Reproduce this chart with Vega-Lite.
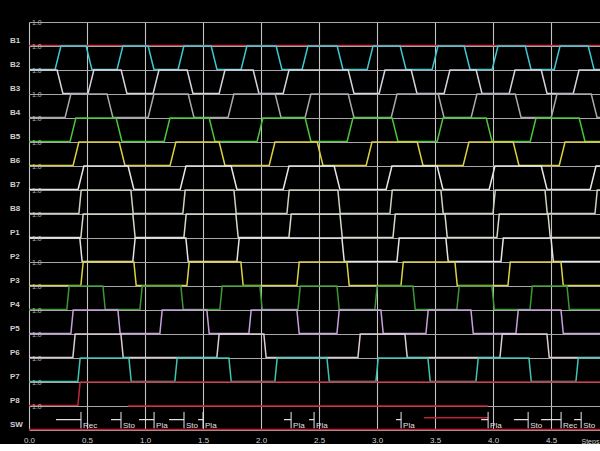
{
  "$schema": "https://vega.github.io/schema/vega-lite/v6.json",
  "autosize": {"type": "pad"},
  "padding": {"left": 9, "top": 19, "right": 0, "bottom": 0},
  "background": "#000000",
  "config": {
    "view": {"stroke": null},
    "font": "Liberation Sans"
  },
  "bounds": "flush",
  "data": {"values": [
    {"c":"B1","t":0,"v":0},{"c":"B1","t":4.93,"v":0},

    {"c":"B2","t":0,"v":0},{"c":"B2","t":0.225,"v":0},{"c":"B2","t":0.275,"v":1},{"c":"B2","t":0.492,"v":1},{"c":"B2","t":0.542,"v":0},{"c":"B2","t":0.759,"v":0},{"c":"B2","t":0.809,"v":1},{"c":"B2","t":1.027,"v":1},{"c":"B2","t":1.077,"v":0},{"c":"B2","t":1.285,"v":0},{"c":"B2","t":1.335,"v":1},{"c":"B2","t":1.57,"v":1},{"c":"B2","t":1.62,"v":0},{"c":"B2","t":1.828,"v":0},{"c":"B2","t":1.878,"v":1},{"c":"B2","t":2.13,"v":1},{"c":"B2","t":2.18,"v":0},{"c":"B2","t":2.354,"v":0},{"c":"B2","t":2.404,"v":1},{"c":"B2","t":2.656,"v":1},{"c":"B2","t":2.706,"v":0},{"c":"B2","t":2.915,"v":0},{"c":"B2","t":2.965,"v":1},{"c":"B2","t":3.199,"v":1},{"c":"B2","t":3.249,"v":0},{"c":"B2","t":3.475,"v":0},{"c":"B2","t":3.525,"v":1},{"c":"B2","t":3.751,"v":1},{"c":"B2","t":3.801,"v":0},{"c":"B2","t":3.992,"v":0},{"c":"B2","t":4.042,"v":1},{"c":"B2","t":4.277,"v":1},{"c":"B2","t":4.327,"v":0},{"c":"B2","t":4.527,"v":0},{"c":"B2","t":4.577,"v":1},{"c":"B2","t":4.82,"v":1},{"c":"B2","t":4.87,"v":0},{"c":"B2","t":4.93,"v":0},

    {"c":"B3","t":0,"v":1},{"c":"B3","t":0.242,"v":1},{"c":"B3","t":0.292,"v":0},{"c":"B3","t":0.509,"v":0},{"c":"B3","t":0.559,"v":1},{"c":"B3","t":0.794,"v":1},{"c":"B3","t":0.844,"v":0},{"c":"B3","t":1.07,"v":0},{"c":"B3","t":1.12,"v":1},{"c":"B3","t":1.363,"v":1},{"c":"B3","t":1.413,"v":0},{"c":"B3","t":1.639,"v":0},{"c":"B3","t":1.689,"v":1},{"c":"B3","t":1.932,"v":1},{"c":"B3","t":1.982,"v":0},{"c":"B3","t":2.191,"v":0},{"c":"B3","t":2.241,"v":1},{"c":"B3","t":2.751,"v":1},{"c":"B3","t":2.801,"v":0},{"c":"B3","t":3.018,"v":0},{"c":"B3","t":3.068,"v":1},{"c":"B3","t":3.294,"v":1},{"c":"B3","t":3.344,"v":0},{"c":"B3","t":3.578,"v":0},{"c":"B3","t":3.628,"v":1},{"c":"B3","t":3.854,"v":1},{"c":"B3","t":3.904,"v":0},{"c":"B3","t":4.139,"v":0},{"c":"B3","t":4.189,"v":1},{"c":"B3","t":4.415,"v":1},{"c":"B3","t":4.465,"v":0},{"c":"B3","t":4.691,"v":0},{"c":"B3","t":4.741,"v":1},{"c":"B3","t":4.93,"v":1},

    {"c":"B4","t":0,"v":0},{"c":"B4","t":0.311,"v":0},{"c":"B4","t":0.361,"v":1},{"c":"B4","t":0.673,"v":1},{"c":"B4","t":0.723,"v":0},{"c":"B4","t":1.027,"v":0},{"c":"B4","t":1.077,"v":1},{"c":"B4","t":1.372,"v":1},{"c":"B4","t":1.422,"v":0},{"c":"B4","t":1.716,"v":0},{"c":"B4","t":1.766,"v":1},{"c":"B4","t":2.122,"v":1},{"c":"B4","t":2.172,"v":0},{"c":"B4","t":2.38,"v":0},{"c":"B4","t":2.43,"v":1},{"c":"B4","t":2.751,"v":1},{"c":"B4","t":2.801,"v":0},{"c":"B4","t":3.122,"v":0},{"c":"B4","t":3.172,"v":1},{"c":"B4","t":3.527,"v":1},{"c":"B4","t":3.577,"v":0},{"c":"B4","t":3.811,"v":0},{"c":"B4","t":3.861,"v":1},{"c":"B4","t":4.191,"v":1},{"c":"B4","t":4.241,"v":0},{"c":"B4","t":4.501,"v":0},{"c":"B4","t":4.551,"v":1},{"c":"B4","t":4.846,"v":1},{"c":"B4","t":4.896,"v":0},{"c":"B4","t":4.93,"v":0},

    {"c":"B5","t":0,"v":0},{"c":"B5","t":0.354,"v":0},{"c":"B5","t":0.404,"v":1},{"c":"B5","t":0.751,"v":1},{"c":"B5","t":0.801,"v":0},{"c":"B5","t":1.165,"v":0},{"c":"B5","t":1.215,"v":1},{"c":"B5","t":1.553,"v":1},{"c":"B5","t":1.603,"v":0},{"c":"B5","t":1.966,"v":0},{"c":"B5","t":2.016,"v":1},{"c":"B5","t":2.38,"v":1},{"c":"B5","t":2.43,"v":0},{"c":"B5","t":2.742,"v":0},{"c":"B5","t":2.792,"v":1},{"c":"B5","t":3.13,"v":1},{"c":"B5","t":3.18,"v":0},{"c":"B5","t":3.518,"v":0},{"c":"B5","t":3.568,"v":1},{"c":"B5","t":3.941,"v":1},{"c":"B5","t":3.991,"v":0},{"c":"B5","t":4.32,"v":0},{"c":"B5","t":4.37,"v":1},{"c":"B5","t":4.742,"v":1},{"c":"B5","t":4.792,"v":0},{"c":"B5","t":4.93,"v":0},

    {"c":"B6","t":0,"v":0},{"c":"B6","t":0.38,"v":0},{"c":"B6","t":0.43,"v":1},{"c":"B6","t":0.777,"v":1},{"c":"B6","t":0.827,"v":0},{"c":"B6","t":1.216,"v":0},{"c":"B6","t":1.266,"v":1},{"c":"B6","t":1.639,"v":1},{"c":"B6","t":1.689,"v":0},{"c":"B6","t":2.07,"v":0},{"c":"B6","t":2.12,"v":1},{"c":"B6","t":2.484,"v":1},{"c":"B6","t":2.534,"v":0},{"c":"B6","t":2.906,"v":0},{"c":"B6","t":2.956,"v":1},{"c":"B6","t":3.346,"v":1},{"c":"B6","t":3.396,"v":0},{"c":"B6","t":3.742,"v":0},{"c":"B6","t":3.792,"v":1},{"c":"B6","t":4.173,"v":1},{"c":"B6","t":4.223,"v":0},{"c":"B6","t":4.57,"v":0},{"c":"B6","t":4.62,"v":1},{"c":"B6","t":4.93,"v":1},

    {"c":"B7","t":0,"v":0},{"c":"B7","t":0.423,"v":0},{"c":"B7","t":0.473,"v":1},{"c":"B7","t":0.854,"v":1},{"c":"B7","t":0.904,"v":0},{"c":"B7","t":1.303,"v":0},{"c":"B7","t":1.353,"v":1},{"c":"B7","t":1.742,"v":1},{"c":"B7","t":1.792,"v":0},{"c":"B7","t":2.191,"v":0},{"c":"B7","t":2.241,"v":1},{"c":"B7","t":2.63,"v":1},{"c":"B7","t":2.68,"v":0},{"c":"B7","t":3.078,"v":0},{"c":"B7","t":3.128,"v":1},{"c":"B7","t":3.518,"v":1},{"c":"B7","t":3.568,"v":0},{"c":"B7","t":3.966,"v":0},{"c":"B7","t":4.016,"v":1},{"c":"B7","t":4.415,"v":1},{"c":"B7","t":4.465,"v":0},{"c":"B7","t":4.837,"v":0},{"c":"B7","t":4.887,"v":1},{"c":"B7","t":4.93,"v":1},

    {"c":"B8","t":0,"v":0},{"c":"B8","t":0.43,"v":0},{"c":"B8","t":0.45,"v":1},{"c":"B8","t":0.878,"v":1},{"c":"B8","t":0.898,"v":0},{"c":"B8","t":1.326,"v":0},{"c":"B8","t":1.346,"v":1},{"c":"B8","t":1.766,"v":1},{"c":"B8","t":1.786,"v":0},{"c":"B8","t":2.223,"v":0},{"c":"B8","t":2.243,"v":1},{"c":"B8","t":2.662,"v":1},{"c":"B8","t":2.682,"v":0},{"c":"B8","t":3.111,"v":0},{"c":"B8","t":3.131,"v":1},{"c":"B8","t":3.55,"v":1},{"c":"B8","t":3.57,"v":0},{"c":"B8","t":3.999,"v":0},{"c":"B8","t":4.019,"v":1},{"c":"B8","t":4.447,"v":1},{"c":"B8","t":4.467,"v":0},{"c":"B8","t":4.878,"v":0},{"c":"B8","t":4.898,"v":1},{"c":"B8","t":4.93,"v":1},

    {"c":"P1","t":0,"v":0},{"c":"P1","t":0.447,"v":0},{"c":"P1","t":0.467,"v":1},{"c":"P1","t":0.895,"v":1},{"c":"P1","t":0.915,"v":0},{"c":"P1","t":1.335,"v":0},{"c":"P1","t":1.355,"v":1},{"c":"P1","t":1.783,"v":1},{"c":"P1","t":1.803,"v":0},{"c":"P1","t":2.24,"v":0},{"c":"P1","t":2.26,"v":1},{"c":"P1","t":2.68,"v":1},{"c":"P1","t":2.7,"v":0},{"c":"P1","t":3.137,"v":0},{"c":"P1","t":3.157,"v":1},{"c":"P1","t":3.585,"v":1},{"c":"P1","t":3.605,"v":0},{"c":"P1","t":4.033,"v":0},{"c":"P1","t":4.053,"v":1},{"c":"P1","t":4.473,"v":1},{"c":"P1","t":4.493,"v":0},{"c":"P1","t":4.93,"v":0},

    {"c":"P2","t":0,"v":1},{"c":"P2","t":0.438,"v":1},{"c":"P2","t":0.458,"v":0},{"c":"P2","t":0.895,"v":0},{"c":"P2","t":0.915,"v":1},{"c":"P2","t":1.352,"v":1},{"c":"P2","t":1.372,"v":0},{"c":"P2","t":1.792,"v":0},{"c":"P2","t":1.812,"v":1},{"c":"P2","t":2.697,"v":1},{"c":"P2","t":2.717,"v":0},{"c":"P2","t":3.171,"v":0},{"c":"P2","t":3.191,"v":1},{"c":"P2","t":3.593,"v":1},{"c":"P2","t":3.613,"v":0},{"c":"P2","t":4.068,"v":0},{"c":"P2","t":4.088,"v":1},{"c":"P2","t":4.499,"v":1},{"c":"P2","t":4.519,"v":0},{"c":"P2","t":4.93,"v":0},

    {"c":"P3","t":0,"v":0},{"c":"P3","t":0.447,"v":0},{"c":"P3","t":0.467,"v":1},{"c":"P3","t":0.904,"v":1},{"c":"P3","t":0.924,"v":0},{"c":"P3","t":1.361,"v":0},{"c":"P3","t":1.381,"v":1},{"c":"P3","t":1.826,"v":1},{"c":"P3","t":1.846,"v":0},{"c":"P3","t":2.309,"v":0},{"c":"P3","t":2.329,"v":1},{"c":"P3","t":2.74,"v":1},{"c":"P3","t":2.76,"v":0},{"c":"P3","t":3.206,"v":0},{"c":"P3","t":3.226,"v":1},{"c":"P3","t":3.671,"v":1},{"c":"P3","t":3.691,"v":0},{"c":"P3","t":4.128,"v":0},{"c":"P3","t":4.148,"v":1},{"c":"P3","t":4.585,"v":1},{"c":"P3","t":4.605,"v":0},{"c":"P3","t":4.93,"v":0},

    {"c":"P4","t":0,"v":0},{"c":"P4","t":0.326,"v":0},{"c":"P4","t":0.346,"v":1},{"c":"P4","t":0.637,"v":1},{"c":"P4","t":0.657,"v":0},{"c":"P4","t":0.956,"v":0},{"c":"P4","t":0.976,"v":1},{"c":"P4","t":1.309,"v":1},{"c":"P4","t":1.329,"v":0},{"c":"P4","t":1.645,"v":0},{"c":"P4","t":1.665,"v":1},{"c":"P4","t":1.99,"v":1},{"c":"P4","t":2.01,"v":0},{"c":"P4","t":2.318,"v":0},{"c":"P4","t":2.338,"v":1},{"c":"P4","t":2.654,"v":1},{"c":"P4","t":2.674,"v":0},{"c":"P4","t":2.981,"v":0},{"c":"P4","t":3.001,"v":1},{"c":"P4","t":3.309,"v":1},{"c":"P4","t":3.329,"v":0},{"c":"P4","t":3.688,"v":0},{"c":"P4","t":3.708,"v":1},{"c":"P4","t":3.99,"v":1},{"c":"P4","t":4.01,"v":0},{"c":"P4","t":4.318,"v":0},{"c":"P4","t":4.338,"v":1},{"c":"P4","t":4.637,"v":1},{"c":"P4","t":4.657,"v":0},{"c":"P4","t":4.93,"v":0},

    {"c":"P5","t":0,"v":0},{"c":"P5","t":0.361,"v":0},{"c":"P5","t":0.381,"v":1},{"c":"P5","t":0.766,"v":1},{"c":"P5","t":0.786,"v":0},{"c":"P5","t":1.128,"v":0},{"c":"P5","t":1.148,"v":1},{"c":"P5","t":1.533,"v":1},{"c":"P5","t":1.553,"v":0},{"c":"P5","t":1.895,"v":0},{"c":"P5","t":1.915,"v":1},{"c":"P5","t":2.309,"v":1},{"c":"P5","t":2.329,"v":0},{"c":"P5","t":2.654,"v":0},{"c":"P5","t":2.674,"v":1},{"c":"P5","t":3.033,"v":1},{"c":"P5","t":3.053,"v":0},{"c":"P5","t":3.421,"v":0},{"c":"P5","t":3.441,"v":1},{"c":"P5","t":3.809,"v":1},{"c":"P5","t":3.829,"v":0},{"c":"P5","t":4.197,"v":0},{"c":"P5","t":4.217,"v":1},{"c":"P5","t":4.585,"v":1},{"c":"P5","t":4.605,"v":0},{"c":"P5","t":4.93,"v":0},

    {"c":"P6","t":0,"v":0},{"c":"P6","t":0.378,"v":0},{"c":"P6","t":0.398,"v":1},{"c":"P6","t":0.792,"v":1},{"c":"P6","t":0.812,"v":0},{"c":"P6","t":1.619,"v":0},{"c":"P6","t":1.639,"v":1},{"c":"P6","t":2.024,"v":1},{"c":"P6","t":2.044,"v":0},{"c":"P6","t":2.835,"v":0},{"c":"P6","t":2.855,"v":1},{"c":"P6","t":3.24,"v":1},{"c":"P6","t":3.26,"v":0},{"c":"P6","t":4.059,"v":0},{"c":"P6","t":4.079,"v":1},{"c":"P6","t":4.464,"v":1},{"c":"P6","t":4.484,"v":0},{"c":"P6","t":4.93,"v":0},

    {"c":"P7","t":0,"v":0},{"c":"P7","t":0.421,"v":0},{"c":"P7","t":0.441,"v":1},{"c":"P7","t":0.861,"v":1},{"c":"P7","t":0.881,"v":0},{"c":"P7","t":1.257,"v":0},{"c":"P7","t":1.277,"v":1},{"c":"P7","t":1.723,"v":1},{"c":"P7","t":1.743,"v":0},{"c":"P7","t":2.119,"v":0},{"c":"P7","t":2.139,"v":1},{"c":"P7","t":2.568,"v":1},{"c":"P7","t":2.588,"v":0},{"c":"P7","t":2.99,"v":0},{"c":"P7","t":3.01,"v":1},{"c":"P7","t":3.438,"v":1},{"c":"P7","t":3.458,"v":0},{"c":"P7","t":3.852,"v":0},{"c":"P7","t":3.872,"v":1},{"c":"P7","t":4.309,"v":1},{"c":"P7","t":4.329,"v":0},{"c":"P7","t":4.714,"v":0},{"c":"P7","t":4.734,"v":1},{"c":"P7","t":4.93,"v":1},

    {"c":"P8","t":0,"v":0},{"c":"P8","t":0.421,"v":0},{"c":"P8","t":0.441,"v":1},{"c":"P8","t":4.93,"v":1},

    {"c":"SW","t":0,"v":0},{"c":"SW","t":4.93,"v":0},
    {"c":"SW","s":"a","t":0.853,"v":1},{"c":"SW","s":"a","t":3.957,"v":1},
    {"c":"SW","s":"b","t":3.405,"v":0.5},{"c":"SW","s":"b","t":3.957,"v":0.5},

    {"c":"SW","t":0.233,"t2":0.448,"lab":"Rec"},
    {"c":"SW","t":0.707,"t2":0.793,"lab":"Sto"},
    {"c":"SW","t":0.948,"t2":1.078,"lab":"Pla"},
    {"c":"SW","t":1.207,"t2":1.336,"lab":"Sto"},
    {"c":"SW","t":1.457,"t2":1.5,"lab":"Pla"},
    {"c":"SW","t":2.198,"t2":2.259,"lab":"Pla"},
    {"c":"SW","t":2.414,"t2":2.457,"lab":"Pla"},
    {"c":"SW","t":3.164,"t2":3.207,"lab":"Pla"},
    {"c":"SW","t":3.897,"t2":3.957,"lab":"Pla"},
    {"c":"SW","t":4.181,"t2":4.302,"lab":"Sto"},
    {"c":"SW","t":4.414,"t2":4.586,"lab":"Rec"},
    {"c":"SW","t":4.698,"t2":4.759,"lab":"Sto"}
  ]},
  "facet": {
    "row": {
      "field": "c",
      "type": "nominal",
      "sort": ["B1","B2","B3","B4","B5","B6","B7","B8","P1","P2","P3","P4","P5","P6","P7","P8","SW"],
      "header": null
    }
  },
  "spacing": {"row": 0},
  "spec": {
    "width": 572,
    "height": 23.5,
    "layer": [
      {
        "transform": [{"filter": "isValid(datum.v)"}],
        "mark": {"type": "line", "strokeWidth": 1.5, "interpolate": "linear"},
        "encoding": {
          "x": {
            "field": "t",
            "type": "quantitative",
            "scale": {"domain": [0, 4.93], "nice": false, "zero": false},
            "axis": {
              "values": [0,0.25,0.5,0.75,1,1.25,1.5,1.75,2,2.25,2.5,2.75,3,3.25,3.5,3.75,4,4.25,4.5,4.75],
              "labelExpr": "(datum.value * 4) % 2 == 0 ? format(datum.value, '.1f') : ''",
              "grid": true,
              "gridColor": "#c4c4c4",
              "gridWidth": 1.1,
              "ticks": false,
              "domain": false,
              "labelColor": "#d0d0d0",
              "labelFontSize": 8,
              "labelPadding": 6,
              "labelFlush": false,
              "title": "Steps",
              "titleColor": "#d0d0d0",
              "titleFontSize": 7,
              "titleFontWeight": "normal",
              "titleX": 552,
              "titleY": 11,
              "titleAlign": "left",
              "titleBaseline": "middle"
            }
          },
          "y": {
            "field": "v",
            "type": "quantitative",
            "scale": {"domain": [0, 1], "nice": false, "zero": false},
            "axis": {
              "values": [0, 1],
              "grid": true,
              "gridColor": "#a8a8a8",
              "gridWidth": 1,
              "labels": false,
              "ticks": false,
              "domain": false,
              "title": null
            }
          },
          "color": {
            "field": "c",
            "type": "nominal",
            "scale": {
              "domain": ["B1","B2","B3","B4","B5","B6","B7","B8","P1","P2","P3","P4","P5","P6","P7","P8","SW"],
              "range": ["#c8323c","#3ec8d2","#d4d4dc","#a8a8b0","#48c838","#dcd040","#e6e6e6","#c8d4c0","#d2dcc8","#e4e4ea","#dcd448","#3c9a34","#c8a0dc","#dcccd8","#40c4b4","#c0283a","#c41e32"]
            },
            "legend": null
          },
          "detail": {"field": "s"}
        }
      },
      {
        "transform": [{"filter": "isValid(datum.lab)"}],
        "mark": {"type": "rule", "color": "#e8e8e8", "strokeWidth": 1.2},
        "encoding": {
          "x": {"field": "t", "type": "quantitative"},
          "x2": {"field": "t2"},
          "y": {"datum": 0.42}
        }
      },
      {
        "transform": [{"filter": "isValid(datum.lab)"}],
        "mark": {"type": "rule", "color": "#e8e8e8", "strokeWidth": 1},
        "encoding": {
          "x": {"field": "t2", "type": "quantitative"},
          "y": {"datum": 0.05},
          "y2": {"datum": 0.75}
        }
      },
      {
        "transform": [{"filter": "isValid(datum.lab)"}],
        "mark": {"type": "text", "align": "left", "baseline": "middle", "dx": 2, "fontSize": 8, "color": "#e0e0e0"},
        "encoding": {
          "x": {"field": "t2", "type": "quantitative"},
          "y": {"datum": 0.14},
          "text": {"field": "lab"}
        }
      },
      {
        "transform": [{"aggregate": [{"op": "count", "as": "n"}], "groupby": ["c"]}],
        "mark": {"type": "text", "align": "left", "baseline": "middle", "fontSize": 8, "fontWeight": "bold", "color": "#d0d0d0"},
        "encoding": {
          "x": {"datum": -0.164},
          "y": {"datum": 0.2},
          "text": {"field": "c"}
        }
      },
      {
        "transform": [{"aggregate": [{"op": "count", "as": "n"}], "groupby": ["c"]}],
        "mark": {"type": "text", "align": "left", "baseline": "middle", "fontSize": 7, "color": "#b8b8b8", "text": "1.0", "dx": 3, "dy": 1},
        "encoding": {
          "x": {"datum": 0},
          "y": {"datum": 1}
        }
      }
    ]
  }
}
